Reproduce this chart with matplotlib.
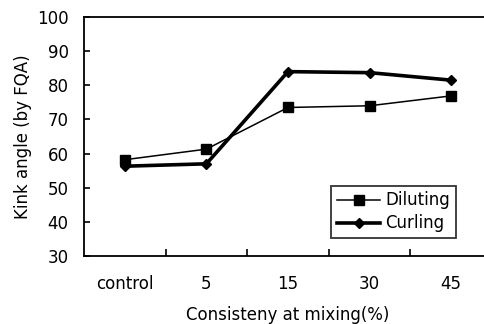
import numpy as np
import matplotlib.pyplot as plt

plt.rcParams['font.family'] = ['DejaVu Sans']

categories = ['control', '5', '15', '30', '45']
diluting = [58.2, 61.3, 73.5, 74.0, 76.9]
curling = [56.3, 57.0, 84.0, 83.7, 81.5]
yticks = [30, 40, 50, 60, 70, 80, 90, 100]

fig = plt.figure(figsize=(4.84, 3.24), dpi=100)
ax = fig.add_axes([84/484, 1-256/324, 408/484, 239/324])
x = np.arange(len(categories))

ax.plot(x, diluting, color='black', lw=1.1, marker='s', ms=7, label='Diluting')
ax.plot(x, curling, color='black', lw=2.6, marker='D', ms=5.5, label='Curling')

ax.set_xlim(-0.5, 4.5)
ax.set_ylim(30, 100)
ax.set_yticks(yticks)
ax.set_xticks(x)
ax.set_xticklabels(categories)
ax.set_xticks(x[:-1] + 0.5, minor=True)
ax.tick_params(axis='x', which='major', length=0, pad=14, labelsize=12)
ax.tick_params(axis='x', which='minor', direction='in', length=5, width=1.2)
ax.tick_params(axis='y', direction='in', length=4, width=1.2, labelsize=12, pad=11)
for s in ['left', 'bottom', 'top']:
    ax.spines[s].set_linewidth(1.3)
ax.spines['right'].set_visible(False)

ax.set_xlabel('Consisteny at mixing(%)', fontsize=12, labelpad=9)
ax.set_ylabel('Kink angle (by FQA)', fontsize=12, labelpad=4)

leg = ax.legend(loc='lower right', bbox_to_anchor=(0.92, 0.06), fontsize=12,
                frameon=True, fancybox=False, edgecolor='black', handlelength=2.6,
                handletextpad=0.3, borderpad=0.35, labelspacing=0.3, borderaxespad=0.2)
leg.get_frame().set_linewidth(1.3)

fig.savefig('out.png', dpi=100)
